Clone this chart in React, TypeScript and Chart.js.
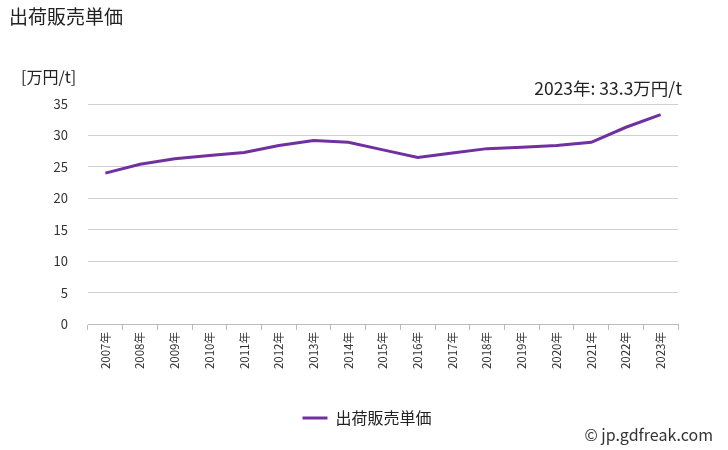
import React, { useEffect, useRef } from "react";
import { Chart, registerables } from "chart.js";

Chart.register(...registerables);

const categories = ["2007年","2008年","2009年","2010年","2011年","2012年","2013年","2014年","2015年","2016年","2017年","2018年","2019年","2020年","2021年","2022年","2023年"];
const priceValues = [24.0, 25.4, 26.3, 26.8, 27.3, 28.4, 29.2, 28.9, 27.7, 26.5, 27.2, 27.9, 28.1, 28.4, 28.9, 31.3, 33.3];
const seriesName = "出荷販売単価";
const chartTitle = "出荷販売単価";
const unitLabel = "[万円/t]";
const annotationText = "2023年: 33.3万円/t";
const copyrightText = "© jp.gdfreak.com";

const FONT = "'Noto Sans CJK JP', 'Noto Sans', sans-serif";
const LINE_COLOR = "#7030a0";

const textPlugin = {
  id: "textPlugin",
  afterLayout(chart: any) {
    if (chart.legend) {
      chart.legend.left += 28;
      chart.legend.right += 28;
    }
  },
  afterDraw(chart: any) {
    const ctx = chart.ctx;
    const area = chart.chartArea;
    ctx.save();
    ctx.fillStyle = "#222";
    ctx.textBaseline = "middle";
    ctx.font = `19px ${FONT}`;
    ctx.textAlign = "left";
    ctx.fillText(chartTitle, 9, 17);
    ctx.font = `16px ${FONT}`;
    ctx.fillText(unitLabel, 21, 77);
    ctx.font = `17.5px ${FONT}`;
    ctx.textAlign = "right";
    ctx.fillText(annotationText, area.right + 4, 88);
    ctx.font = `16px ${FONT}`;
    ctx.fillStyle = "#333";
    ctx.fillText(copyrightText, 713, 435);
    ctx.restore();
  },
};

export default function App() {
  const ref = useRef<HTMLCanvasElement>(null);
  useEffect(() => {
    if (!ref.current) return;
    const chart = new Chart(ref.current, {
      type: "line",
      data: {
        labels: categories,
        datasets: [
          {
            label: seriesName,
            data: priceValues,
            borderColor: LINE_COLOR,
            backgroundColor: LINE_COLOR,
            borderWidth: 3,
            pointRadius: 0,
            pointStyle: "line",
            tension: 0,
          },
        ],
      },
      options: {
        animation: false,
        responsive: false,
        maintainAspectRatio: false,
        layout: { padding: { top: 104, left: 0, right: 50, bottom: 14 } },
        scales: {
          x: {
            offset: true,
            grid: { offset: true, drawOnChartArea: false, drawTicks: true, tickLength: 6, color: "#bbbbbb" },
            border: { display: true, color: "#bbbbbb" },
            ticks: {
              minRotation: 90,
              maxRotation: 90,
              autoSkip: false,
              color: "#333",
              font: { family: FONT, size: 11.5 },
              padding: 2,
            },
            afterFit: (scale: any) => { scale.height = 76; },
          },
          y: {
            min: 0,
            max: 35,
            ticks: { stepSize: 5, color: "#333", font: { family: FONT, size: 13 }, padding: 20 },
            grid: { color: "#d0d0d0", drawTicks: false },
            border: { display: false },
            afterFit: (scale: any) => { scale.width = 88; },
          },
        },
        plugins: {
          legend: {
            position: "bottom",
            labels: {
              usePointStyle: true,
              pointStyleWidth: 25,
              color: "#222",
              font: { family: FONT, size: 16 },
              padding: 10,
            },
          },
          tooltip: { enabled: false },
          title: { display: false },
        },
      },
      plugins: [textPlugin],
    });
    return () => chart.destroy();
  }, []);
  return (
    <div style={{ position: "fixed", left: 0, top: 0, width: 728, height: 450, background: "#fff" }}>
      <canvas ref={ref} width={728} height={450} />
    </div>
  );
}
